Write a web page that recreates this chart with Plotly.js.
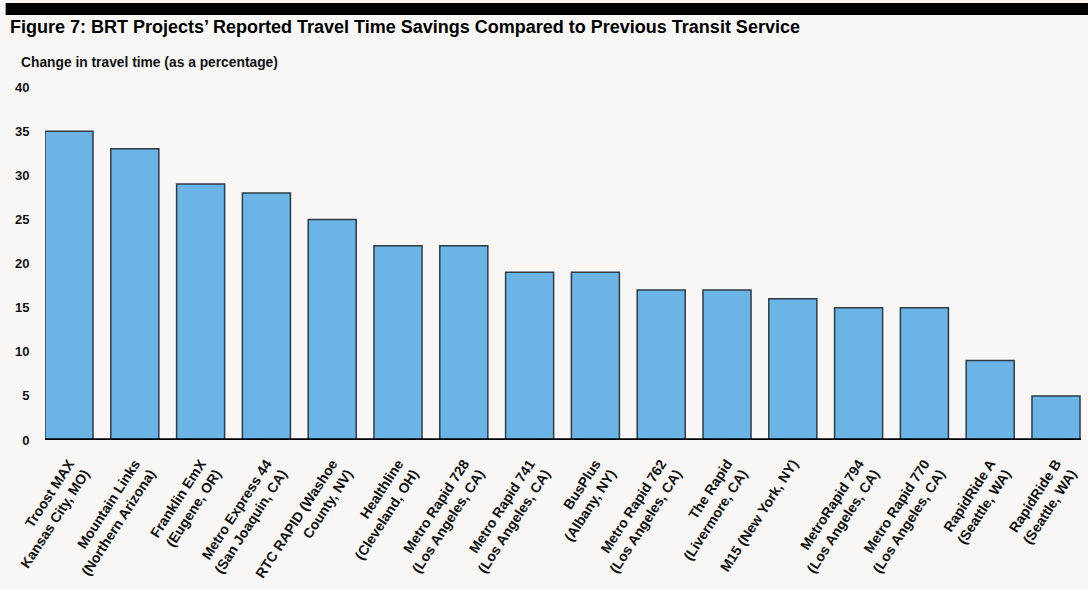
<!DOCTYPE html>
<html>
<head>
<meta charset="utf-8">
<script src="https://cdn.plot.ly/plotly-3.0.1.min.js"></script>
<style>
  body { margin: 0; background: #f8f7f5; }
  #chart { width: 1088px; height: 590px; }
</style>
</head>
<body>
<div id="chart"></div>
<script>
// BRT projects, in the order they appear on the chart
var projects = [
  "Troost MAX<br>Kansas City, MO)",
  "Mountain Links<br>(Northern Arizona)",
  "Franklin EmX<br>(Eugene, OR)",
  "Metro Express 44<br>(San Joaquin, CA)",
  "RTC RAPID (Washoe<br>County, NV)",
  "Healthline<br>(Cleveland, OH)",
  "Metro Rapid 728<br>(Los Angeles, CA)",
  "Metro Rapid 741<br>(Los Angeles, CA)",
  "BusPlus<br>(Albany, NY)",
  "Metro Rapid 762<br>(Los Angeles, CA)",
  "The Rapid<br>(Livermore, CA)",
  "M15 (New York, NY)",
  "MetroRapid 794<br>(Los Angeles, CA)",
  "Metro Rapid 770<br>(Los Angeles, CA)",
  "RapidRide A<br>(Seattle, WA)",
  "RapidRide B<br>(Seattle, WA)"
];

// change in travel time, percent
var savings = [35, 33, 29, 28, 25, 22, 22, 19, 19, 17, 17, 16, 15, 15, 9, 5];

var yTicks = [0, 5, 10, 15, 20, 25, 30, 35, 40];

var font = "Liberation Sans, Arial, sans-serif";

var data = [{
  x: projects,
  y: savings,
  type: 'bar',
  marker: {
    color: '#6ab4e6',
    line: {color: '#2f3b45', width: 1.5}
  },
  hoverinfo: 'y'
}];

var layout = {
  width: 1088,
  height: 590,
  autosize: false,
  margin: {l: 45, r: 7, t: 87, b: 150, pad: 0},
  paper_bgcolor: '#f8f7f5',
  plot_bgcolor: '#f8f7f5',
  bargap: 0.27,
  showlegend: false,
  font: {family: font, color: '#111'},
  xaxis: {
    range: [-0.365, 15.38],
    tickangle: -57,
    tickfont: {family: font, size: 14, color: '#111', weight: 'bold'},
    showgrid: false,
    zeroline: false,
    showline: false,
    ticks: 'outside',
    ticklen: 9,
    tickcolor: 'rgba(0,0,0,0)',
    automargin: false
  },
  yaxis: {
    range: [0, 40],
    tickvals: yTicks,
    tickfont: {family: font, size: 13, color: '#111', weight: 'bold'},
    showgrid: false,
    zeroline: false,
    showline: false,
    ticks: 'outside',
    ticklen: 12,
    tickcolor: 'rgba(0,0,0,0)',
    automargin: false
  },
  shapes: [{
    // black rule above the figure title
    type: 'rect', xref: 'paper', yref: 'paper',
    x0: -0.038, x1: 1.01, y0: 1.204, y1: 1.238,
    fillcolor: '#000', line: {width: 0}
  }, {
    // heavy baseline drawn over the bars
    type: 'line', xref: 'paper', yref: 'y', layer: 'above',
    x0: 0, x1: 1, y0: 0, y1: 0,
    line: {color: '#000', width: 3.5}
  }],
  annotations: [{
    text: "<b>Figure 7: BRT Projects\u2019 Reported Travel Time Savings Compared to Previous Transit Service</b>",
    xref: 'paper', yref: 'paper',
    x: -0.036, y: 1.170, xanchor: 'left', yanchor: 'middle',
    showarrow: false,
    font: {family: font, size: 18, color: '#000'}
  }, {
    text: "<b>Change in travel time (as a percentage)</b>",
    xref: 'paper', yref: 'paper',
    x: -0.025, y: 1.068, xanchor: 'left', yanchor: 'middle',
    showarrow: false,
    font: {family: font, size: 13.8, color: '#111'}
  }]
};

Plotly.newPlot('chart', data, layout, {displayModeBar: false, staticPlot: true});
</script>
</body>
</html>
